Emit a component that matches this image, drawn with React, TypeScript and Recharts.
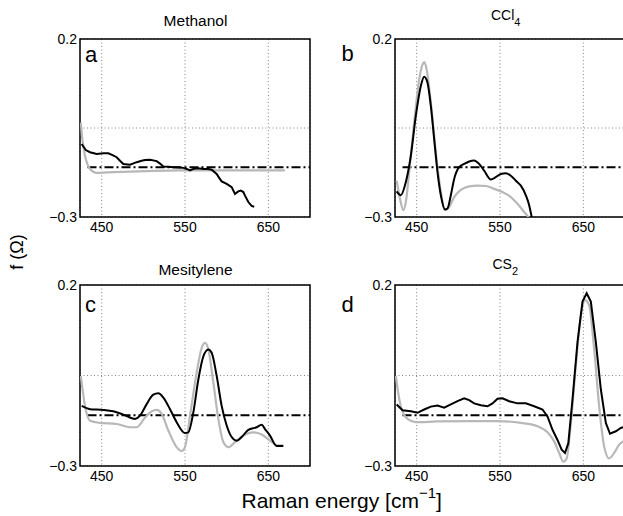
import React from "react";
import { LineChart, Line, XAxis, YAxis, CartesianGrid, ReferenceArea } from "recharts";

const xTicks = [450, 550, 650];
const yTicks = [-0.3, -0.05, 0.2];
const xDomain = [424, 700];
const yDomain = [-0.3, 0.2];
const baseline = [[433, -0.16], [700, -0.16]];

const methanolBlack = [[426, -0.095], [431, -0.112], [436, -0.118], [444, -0.123], [452, -0.121], [458, -0.121], [463, -0.126], [468, -0.132], [472, -0.142], [476, -0.151], [484, -0.153], [492, -0.146], [498, -0.142], [502, -0.14], [508, -0.139], [516, -0.143], [520, -0.15], [524, -0.158], [530, -0.159], [536, -0.16], [542, -0.161], [548, -0.162], [552, -0.165], [556, -0.169], [560, -0.165], [564, -0.163], [568, -0.164], [572, -0.165], [578, -0.165], [582, -0.167], [588, -0.179], [591, -0.19], [594, -0.2], [600, -0.207], [606, -0.216], [610, -0.235], [614, -0.228], [617, -0.226], [620, -0.23], [622, -0.24], [626, -0.258], [630, -0.269], [633, -0.271]];
const methanolGray = [[425, -0.035], [427, -0.085], [430, -0.128], [433, -0.152], [436, -0.165], [440, -0.173], [444, -0.176], [464, -0.174], [504, -0.171], [544, -0.169], [584, -0.169], [624, -0.169], [670, -0.169]];

const cclBlack = [[426, -0.228], [431, -0.239], [437, -0.202], [443, -0.128], [449, -0.016], [455, 0.068], [459, 0.094], [463, 0.077], [467, 0.012], [471, -0.081], [475, -0.174], [479, -0.239], [484, -0.279], [487, -0.276], [491, -0.239], [495, -0.193], [501, -0.16], [507, -0.151], [513, -0.144], [519, -0.141], [525, -0.151], [531, -0.17], [539, -0.195], [545, -0.188], [551, -0.179], [557, -0.177], [563, -0.184], [569, -0.198], [575, -0.212], [581, -0.239], [585, -0.267], [588, -0.3], [592, -0.35]];
const cclGray = [[426, -0.198], [430, -0.249], [434, -0.281], [437, -0.258], [441, -0.174], [447, -0.035], [453, 0.086], [457, 0.128], [459, 0.135], [462, 0.114], [467, 0.021], [473, -0.118], [479, -0.23], [484, -0.28], [489, -0.272], [495, -0.244], [503, -0.224], [513, -0.214], [523, -0.212], [533, -0.213], [543, -0.221], [553, -0.23], [563, -0.244], [571, -0.263], [579, -0.286], [585, -0.305], [590, -0.34]];

const mesBlack = [[426, -0.134], [436, -0.143], [452, -0.145], [464, -0.149], [476, -0.158], [490, -0.17], [496, -0.161], [504, -0.129], [512, -0.103], [518, -0.099], [524, -0.111], [532, -0.143], [540, -0.179], [550, -0.209], [554, -0.207], [560, -0.152], [566, -0.061], [572, 0.003], [578, 0.022], [582, 0.013], [588, -0.051], [594, -0.134], [600, -0.188], [606, -0.22], [612, -0.23], [618, -0.22], [626, -0.2], [636, -0.193], [642, -0.186], [646, -0.198], [652, -0.216], [660, -0.245], [668, -0.245]];
const mesGray = [[425, -0.051], [430, -0.134], [436, -0.175], [448, -0.181], [468, -0.184], [484, -0.193], [492, -0.193], [502, -0.166], [510, -0.149], [516, -0.145], [522, -0.156], [530, -0.202], [540, -0.248], [546, -0.259], [550, -0.248], [556, -0.161], [564, -0.042], [570, 0.026], [574, 0.04], [578, 0.022], [584, -0.069], [590, -0.17], [596, -0.234], [602, -0.248], [610, -0.234], [620, -0.216], [632, -0.207], [642, -0.213], [652, -0.23], [662, -0.243], [668, -0.243]];

const cs2Black = [[426, -0.13], [433, -0.146], [443, -0.149], [451, -0.153], [459, -0.144], [467, -0.136], [475, -0.133], [483, -0.139], [491, -0.13], [499, -0.121], [507, -0.113], [513, -0.118], [519, -0.127], [527, -0.132], [535, -0.135], [541, -0.127], [547, -0.114], [553, -0.113], [561, -0.121], [571, -0.127], [581, -0.127], [591, -0.135], [601, -0.144], [607, -0.163], [613, -0.2], [619, -0.228], [624, -0.255], [628, -0.264], [632, -0.237], [637, -0.116], [643, 0.042], [649, 0.154], [654, 0.177], [659, 0.154], [665, 0.042], [671, -0.088], [677, -0.181], [682, -0.211], [689, -0.204], [695, -0.195], [702, -0.19]];
const cs2Gray = [[425, -0.051], [428, -0.1], [431, -0.135], [439, -0.17], [449, -0.179], [475, -0.177], [515, -0.176], [547, -0.176], [575, -0.181], [595, -0.19], [607, -0.207], [615, -0.232], [621, -0.264], [626, -0.288], [630, -0.279], [635, -0.182], [641, -0.023], [647, 0.116], [652, 0.158], [657, 0.144], [663, 0.023], [669, -0.135], [675, -0.246], [681, -0.279], [687, -0.264], [693, -0.241], [702, -0.228]];

const toPts = (arr) => arr.map(([x, y]) => ({ x, y }));
const FONT = "'Liberation Sans', Arial, Helvetica, sans-serif";
const GRAY = "#b8b8b8";

const fmtY = (v) => (Math.abs(v + 0.05) < 1e-6 ? "" : v < 0 ? "\u2212" + Math.abs(v).toFixed(1) : v.toFixed(1));

function Panel({ left, top, plotH, black, gray, blackType }) {
  const W = 40 + 230 + 10;
  const H = 10 + plotH + 30;
  return (
    <div style={{ position: "absolute", left: left - 40, top: top - 10 }}>
      <LineChart width={W} height={H} margin={{ top: 10, right: 10, bottom: 0, left: 0 }}>
        <CartesianGrid stroke="#666" strokeDasharray="1 2.5" strokeWidth={0.8} />
        <XAxis dataKey="x" type="number" domain={xDomain} ticks={xTicks} allowDataOverflow
          tickLine={false} axisLine={false} tickSize={0} tickMargin={5} height={30}
          tick={{ fill: "#000", fontSize: 14, fontFamily: FONT }} />
        <YAxis dataKey="y" type="number" domain={yDomain} ticks={yTicks} allowDataOverflow
          tickLine={false} axisLine={false} tickSize={0} tickMargin={3} width={40}
          tickFormatter={fmtY} tick={{ fill: "#000", fontSize: 14, fontFamily: FONT }} />
        <ReferenceArea x1={424} x2={700} y1={-0.3} y2={0.2} fill="none" fillOpacity={0} stroke="#000" strokeWidth={1.5} />
        <Line data={toPts(baseline)} dataKey="y" stroke="#000" strokeWidth={2} strokeDasharray="9 3 2 3" dot={false} isAnimationActive={false} />
        <Line data={toPts(gray)} dataKey="y" type="monotone" stroke={GRAY} strokeWidth={2.2} dot={false} isAnimationActive={false} />
        <Line data={toPts(black)} dataKey="y" type={blackType} stroke="#000" strokeWidth={2} dot={false} isAnimationActive={false} />
      </LineChart>
    </div>
  );
}

export default function App() {
  return (
    <div style={{ position: "absolute", left: 0, top: 0, width: 623, height: 516, overflow: "hidden", background: "#fff" }}>
      <Panel left={80} top={39} plotH={178} black={methanolBlack} gray={methanolGray} blackType="linear" />
      <Panel left={395} top={39} plotH={178} black={cclBlack} gray={cclGray} blackType="monotone" />
      <Panel left={80} top={285} plotH={181} black={mesBlack} gray={mesGray} blackType="monotone" />
      <Panel left={395} top={285} plotH={181} black={cs2Black} gray={cs2Gray} blackType="linear" />
      <svg width={623} height={516} style={{ position: "absolute", left: 0, top: 0, pointerEvents: "none" }} fontFamily={FONT}>
        <text x={195.5} y={25.5} fontSize={15.5} textAnchor="middle">Methanol</text>
        <text x={491} y={20} fontSize={14}>CCl<tspan fontSize={11} dy={6}>4</tspan></text>
        <text x={195.5} y={275} fontSize={15.5} textAnchor="middle">Mesitylene</text>
        <text x={492.5} y={268.5} fontSize={14}>CS<tspan fontSize={11} dy={6}>2</tspan></text>
        <text x={85} y={61.5} fontSize={22}>a</text>
        <text x={341.5} y={61} fontSize={22}>b</text>
        <text x={85} y={311.5} fontSize={22}>c</text>
        <text x={341.5} y={311.5} fontSize={22}>d</text>
        <text transform="translate(17,252) rotate(-90)" fontSize={18} textAnchor="middle" dominantBaseline="central">f (Ω)</text>
        <text x={241.5} y={508} fontSize={21}>Raman energy [cm<tspan fontSize={15} dy={-10}>−1</tspan><tspan dy={10}>]</tspan></text>
      </svg>
    </div>
  );
}
